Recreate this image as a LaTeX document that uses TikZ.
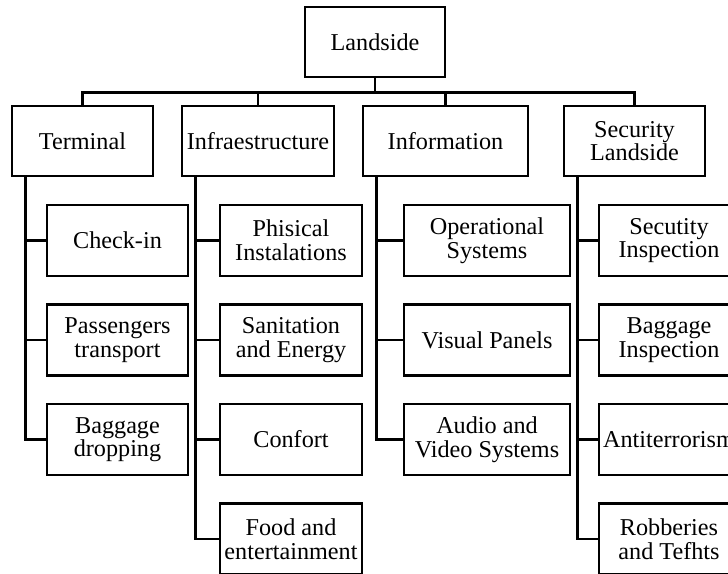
\documentclass[tikz,border=0pt]{standalone}
\usepackage{fontspec}
\setmainfont{Liberation Serif}
\begin{document}
\begin{tikzpicture}[x=.5pt,y=-.5pt,
  box/.style={draw,line width=1.4pt,inner sep=0pt,align=center,
    minimum height=35pt,font=\fontsize{12.1}{11.8}\selectfont},
  link/.style={line width=1.4pt}]
\useasboundingbox (0,0) rectangle (728,573);
% root and first level
\node[box,minimum width=70pt] (land) at (375,42) {Landside};
\node[box,minimum width=70.5pt] (term) at (82.5,141) {Terminal};
\node[box,minimum width=76pt] (infra) at (258,141) {Infraestructure};
\node[box,minimum width=82.5pt] (info) at (445.5,141) {Information};
\node[box,minimum width=70.5pt] (secu) at (634.5,141) {Security\\Landside};
\foreach \n in {term,infra,info,secu}
  \draw[link] (land.south) -- +(0,14) -| (\n.north);
% second level
\foreach \name/\x/\w/\lst in {
  term/117.5/70.5/{{Check-in},{Passengers\\transport},{Baggage\\dropping}},
  infra/291/71/{{Phisical\\Instalations},{Sanitation\\and Energy},{Confort},{Food and\\entertainment}},
  info/487/83/{{Operational\\Systems},{Visual Panels},{Audio and\\Video Systems}},
  secu/669/70/{{Secutity\\Inspection},{Baggage\\Inspection},{Antiterrorism},{Robberies\\and Tefhts}}}{
  \foreach \txt [count=\k] in \lst{
    \node[box,minimum width=\w pt,minimum height=35.5pt] (\name\k) at (\x,141+99.5*\k) {\txt};
    \draw[link] ([xshift=7.5pt]\name.south west) |- (\name\k.west);
  }
}
\end{tikzpicture}
\end{document}
